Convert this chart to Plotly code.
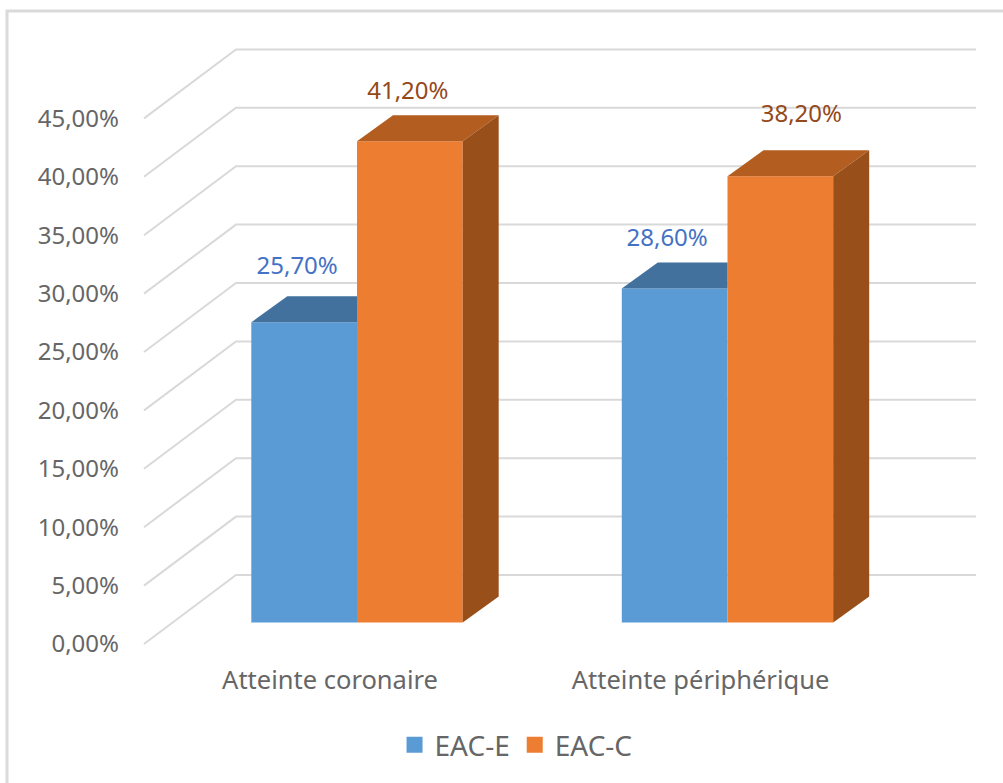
import plotly.graph_objects as go

# ---- data ----
categories = ["Atteinte coronaire", "Atteinte périphérique"]
series_names = ["EAC-E", "EAC-C"]
eac_e = [25.7, 28.6]
eac_c = [41.2, 38.2]
axis_values = [0, 5, 10, 15, 20, 25, 30, 35, 40, 45]
axis_labels = ["0,00%", "5,00%", "10,00%", "15,00%", "20,00%", "25,00%",
               "30,00%", "35,00%", "40,00%", "45,00%"]

# ---- geometry / style ----
W, H = 1003, 783
PX_X = 370.5            # px per category
X0_PX = 357             # px of category 0
PX_Y = 11.68            # px per percentage point
FLOOR_BARS = 622.5      # px of 0 on the bars' front plane
FLOOR_AXIS = 644        # px of 0 on the tick-label plane
BAR_W = 105.7 / PX_X
DEPTH_X = 36 / PX_X
DEPTH_Y = 26 / PX_Y
WALL_FRONT = (144 - X0_PX) / PX_X
WALL_BACK = (236 - X0_PX) / PX_X
WALL_RIGHT = (976 - X0_PX) / PX_X
WALL_RISE = 69 / PX_Y
FONT = "Noto Sans"
GREY = "#666666"
FRONT = ["#5B9BD5", "#ED7D31"]
TOP = ["#41719C", "#B35E20"]
SIDE = "#984F1A"
LABEL = ["#4472C4", "#94491A"]
LABEL_DX = [[-7, -7.5], [-2, 21]]
LABEL_DY = [[54, 48.6], [48, 60]]
CAT_LABEL_SHIFT = -27 / PX_X

x_range = [(0 - X0_PX) / PX_X, (W - X0_PX) / PX_X]
y_axis_range = [(FLOOR_AXIS - H) / PX_Y, FLOOR_AXIS / PX_Y]
y_bars_range = [(FLOOR_BARS - H) / PX_Y, FLOOR_BARS / PX_Y]

fig = go.Figure()

# gridlines: left wall + back wall, on the tick axis so they sit under the bars
gx, gy = [], []
for v in axis_values:
    gx += [WALL_FRONT, WALL_BACK, WALL_RIGHT, None]
    gy += [v, v + WALL_RISE, v + WALL_RISE, None]
fig.add_trace(go.Scatter(x=gx, y=gy, mode="lines", yaxis="y", xaxis="x",
                         line=dict(color="#D9D9D9", width=2),
                         showlegend=False, hoverinfo="skip"))

positions = list(range(len(categories)))
all_values = [eac_e, eac_c]

# front faces
for s, vals in enumerate(all_values):
    fig.add_trace(go.Bar(x=positions, y=vals, name=series_names[s], yaxis="y2", xaxis="x",
                         marker=dict(color=FRONT[s], line=dict(width=0)),
                         showlegend=False))

# top and side faces
for s, vals in enumerate(all_values):
    for p, v in zip(positions, vals):
        left = p + (s - 1) * BAR_W
        right = left + BAR_W
        # the blue top runs behind the neighbouring orange bar
        back_right = right if s == 0 else right + DEPTH_X
        fig.add_trace(go.Scatter(
            x=[left, right, back_right, left + DEPTH_X, left],
            y=[v, v, v + DEPTH_Y, v + DEPTH_Y, v],
            mode="lines", fill="toself", fillcolor=TOP[s], line=dict(width=0),
            yaxis="y2", xaxis="x", showlegend=False, hoverinfo="skip"))
        if s == 1:
            fig.add_trace(go.Scatter(
                x=[right, right + DEPTH_X, right + DEPTH_X, right, right],
                y=[0, DEPTH_Y, v + DEPTH_Y, v, 0],
                mode="lines", fill="toself", fillcolor=SIDE, line=dict(width=0),
                yaxis="y2", xaxis="x", showlegend=False, hoverinfo="skip"))

# value labels
for s, vals in enumerate(all_values):
    fig.add_trace(go.Scatter(
        x=[p + (s - 0.5) * BAR_W + LABEL_DX[s][i] / PX_X for i, p in enumerate(positions)],
        y=[v + LABEL_DY[s][i] / PX_Y for i, v in enumerate(vals)],
        text=[f"{v:.2f}".replace(".", ",") + "%" for v in vals],
        mode="text", textposition="middle center",
        textfont=dict(family=FONT, size=24, color=LABEL[s]),
        yaxis="y2", xaxis="x", showlegend=False, hoverinfo="skip"))

# legend entries
for s, name in enumerate(series_names):
    fig.add_trace(go.Scatter(x=[None], y=[None], mode="markers", name=name,
                             marker=dict(symbol="square", size=16, color=FRONT[s]),
                             yaxis="y2", xaxis="x"))

fig.update_layout(
    width=W, height=H, margin=dict(l=0, r=0, t=0, b=0),
    paper_bgcolor="white", plot_bgcolor="white",
    barmode="group", bargap=1 - 2 * BAR_W, bargroupgap=0,
    font=dict(family=FONT, color=GREY, size=24),
    xaxis=dict(range=x_range, domain=[0, 1], anchor="free", position=(H - 662) / H,
               tickmode="array",
               tickvals=[p + CAT_LABEL_SHIFT for p in positions], ticktext=categories,
               showgrid=False, zeroline=False, showline=False, ticks="",
               tickfont=dict(family=FONT, size=25.5, color=GREY)),
    yaxis=dict(range=y_axis_range, domain=[0, 1], anchor="free", position=119 / W,
               tickmode="array", tickvals=axis_values, ticktext=axis_labels,
               showgrid=False, zeroline=False, showline=False, ticks="",
               tickfont=dict(family=FONT, size=24, color=GREY)),
    yaxis2=dict(range=y_bars_range, domain=[0, 1], overlaying="y", anchor="x",
                visible=False),
    legend=dict(orientation="h", x=0.5145, xanchor="center", y=(H - 745) / H, yanchor="middle",
                font=dict(family=FONT, size=28, color=GREY), bgcolor="rgba(0,0,0,0)",
                itemwidth=30),
    shapes=[dict(type="path", xref="paper", yref="paper", layer="below",
                 path=f"M {7/W},0 L {7/W},{1-11/H} L 1,{1-11/H}",
                 line=dict(color="#DADADA", width=3))],
)

fig.write_html("out.html", config={"displayModeBar": False},
               post_script="document.body.style.margin='0';document.body.style.overflow='hidden';")
